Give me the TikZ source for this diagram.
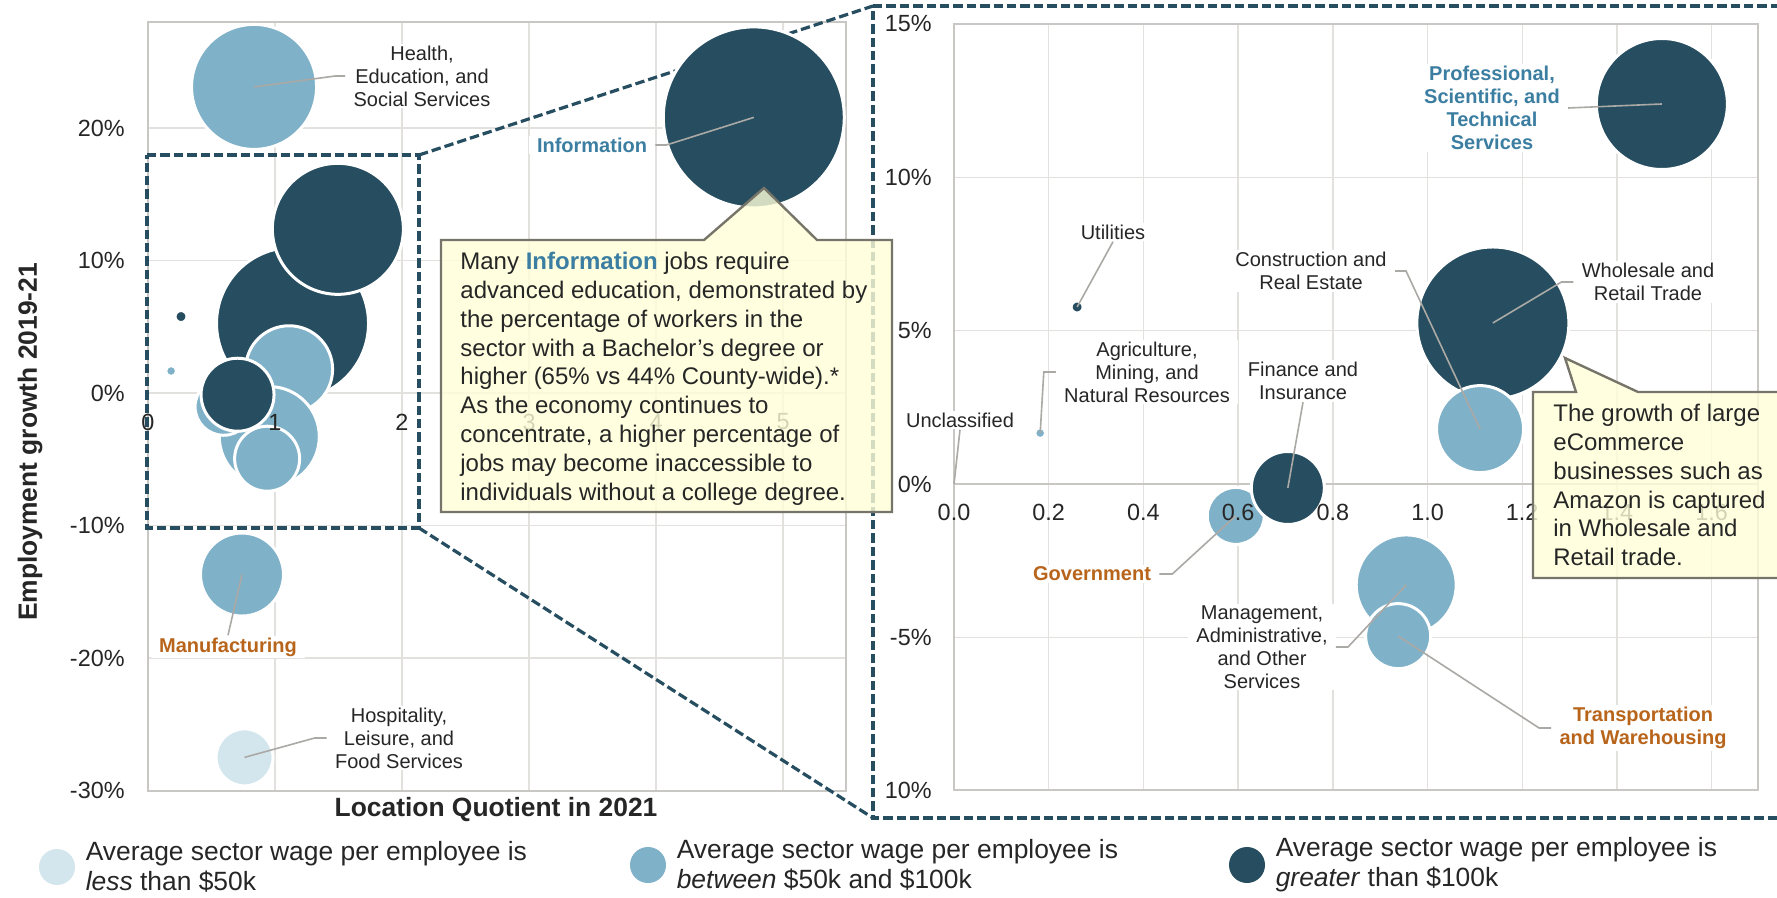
\documentclass[tikz,border=0pt]{standalone}
\usepackage{fontspec}
\setmainfont{Liberation Sans}
\usetikzlibrary{positioning}

\definecolor{darkb}{HTML}{264E60}
\definecolor{midb}{HTML}{7FB1C8}
\definecolor{lightb}{HTML}{D3E6EE}
\definecolor{orng}{HTML}{B8651B}
\definecolor{tealtxt}{HTML}{3B7EA1}
\definecolor{calfill}{HTML}{FFFFD9}
\definecolor{calline}{HTML}{77756A}
\definecolor{gridc}{HTML}{E3E1DD}
\definecolor{axisc}{HTML}{C9C7C3}
\definecolor{leadc}{HTML}{ABA9A5}
\definecolor{txt}{HTML}{262626}

\begin{document}
\begin{tikzpicture}[x=0.5pt, y=-0.5pt,
    gridline/.style={gridc, line width=0.7pt},
    axisline/.style={axisc, line width=1pt},
    zoomline/.style={darkb, line width=1.6pt, dash pattern=on 4.7pt off 2pt},
    bub/.style={circle, draw=white, line width=1.5pt, inner sep=0pt},
    keydot/.style={circle, inner sep=0pt, minimum size=18pt},
    leader/.style={leadc, line width=0.8pt},
    ticklab/.style={text=txt, inner sep=2pt, font=\fontsize{11.7}{14}\selectfont},
    lbl/.style={text=txt, fill=white, align=center, inner xsep=4pt, inner ysep=1pt, font=\fontsize{10}{11.5}\selectfont},
    keylbl/.style={lbl, font=\fontsize{10}{11.5}\selectfont\bfseries},
    calloutbox/.style={draw=calline, line width=1.2pt, fill=calfill, fill opacity=0.8},
    noteText/.style={text=txt, align=left, inner sep=0pt, anchor=north west, font=\fontsize{12}{14.4}\selectfont},
    axistitle/.style={text=txt, font=\fontsize{13.2}{15}\selectfont\bfseries},
    keytext/.style={text=txt, align=left, inner sep=0pt, font=\fontsize{13.2}{15}\selectfont}]

    \fill[white] (0,0) rectangle (1777,898);
    \useasboundingbox (0,0) rectangle (1777,898);

    % left chart
    \foreach \k in {1,...,5}
        \draw[gridline] ({148+127*\k},22) -- ({148+127*\k},791);
    \foreach \g in {-20,-10,0,10,20}
        \draw[gridline] (148,{393-13.25*\g}) -- (846,{393-13.25*\g});
    \draw[axisline] (148,22) rectangle (846,791);

    % right chart
    \foreach \k in {1,...,8}
        \draw[gridline] ({954+94.7*\k},24) -- ({954+94.7*\k},790);
    \foreach \g in {-5,5,10}
        \draw[gridline] (954,{484-30.67*\g}) -- (1758,{484-30.67*\g});
    \draw[axisline] (954,24) rectangle (1758,790);
    \draw[axisline] (954,484) -- (1758,484);

    % zoom frame
    \coordinate (zA) at (147,155);
    \coordinate (zB) at (419,155);
    \coordinate (zC) at (419,528);
    \coordinate (zD) at (147,528);
    \coordinate (zE) at (873,6);
    \coordinate (zF) at (1790,6);
    \coordinate (zG) at (1790,818);
    \coordinate (zH) at (873,818);
    \draw[zoomline] (zA) -- (zB) -- (zC) -- (zD) -- cycle;
    \draw[zoomline] (zE) -- (zF) -- (zG) -- (zH) -- cycle;
    \draw[zoomline] (zB) -- (zE);
    \draw[zoomline] (zC) -- (zH);

    % bubbles
    \foreach \n/\lqv/\gv/\rad/\col in {health/0.835/23.1/61/midb, info/4.77/20.8/89/darkb,
            manuf/0.74/-13.7/40/midb, hosp/0.76/-27.5/27/lightb,
            whole/1.138/5.25/74.5/darkb, prof/1.495/12.39/64/darkb,
            constr/1.111/1.79/42/midb, mgmt/0.955/-3.29/48.5/midb,
            transp/0.938/-4.96/31/midb, gov/0.595/-1.04/27/midb,
            fin/0.705/-0.13/35/darkb, util/0.26/5.77/4.5/darkb, agri/0.182/1.66/4/midb}
        \node[bub, fill=\col, minimum size={(\rad+1.5)*1pt}] (L\n) at ({148+127*\lqv},{393-13.25*\gv}) {};

    \foreach \n/\lqv/\gv/\rad/\col in {whole/1.138/5.25/74.5/darkb, prof/1.495/12.39/64/darkb,
            constr/1.111/1.79/42/midb, mgmt/0.955/-3.29/48.5/midb,
            transp/0.938/-4.96/31/midb, gov/0.595/-1.04/27/midb,
            fin/0.705/-0.13/35/darkb, util/0.26/5.77/4.5/darkb, agri/0.182/1.66/4/midb}
        \node[bub, fill=\col, minimum size={(\rad+1.5)*1pt}] (R\n) at ({954+473.5*\lqv},{484-30.67*\gv}) {};
    \coordinate (Runcl) at (954,484);

    % axis numbers
    \foreach \g/\t in {20/20\%,10/10\%,0/0\%,-10/-10\%,-20/-20\%,-30/-30\%}
        \node[ticklab, anchor=east] (ly\g) at (129,{393-13.25*\g}) {\t};
    \foreach \k in {0,...,5}
        \node[ticklab] (lx\k) at ({148+127*\k},422) {\k};
    \foreach \g/\t in {15/15\%,10/10\%,5/5\%,0/0\%,-5/-5\%,-10/10\%}
        \node[ticklab, anchor=east] (ry\g) at (936,{484-30.67*\g}) {\t};
    \foreach \k/\t in {0/0.0,1/0.2,2/0.4,3/0.6,4/0.8,5/1.0,6/1.2,7/1.4,8/1.6}
        \node[ticklab] (rx\k) at ({954+94.7*\k},512) {\t};

    % labels
    \node[lbl] (lblHealth) at (422,76) {Health,\\Education, and\\Social Services};
    \node[keylbl, text=tealtxt] (lblInfo) at (592,145) {Information};
    \node[keylbl, text=orng] (lblManuf) at (228,647) {Manufacturing};
    \node[lbl] (lblHosp) at (399,738) {Hospitality,\\Leisure, and\\Food Services};

    \draw[leader] (lblHealth.west) -- ++(-10,0) -- (Lhealth.center);
    \draw[leader] (lblInfo.east) -- ++(11,0) -- (Linfo.center);
    \draw[leader] (lblManuf.north) -- (Lmanuf.center);
    \draw[leader] (lblHosp.west) -- ++(-12,0) -- (Lhosp.center);

    \node[keylbl, text=tealtxt] (lblProf) at (1492,108) {Professional,\\Scientific, and\\Technical\\Services};
    \node[lbl] (lblWhole) at (1648,282) {Wholesale and\\Retail Trade};
    \node[lbl] (lblConstr) at (1311,271) {Construction and\\Real Estate};
    \node[lbl] (lblUtil) at (1113,232) {Utilities};
    \node[lbl] (lblAgri) at (1147,372) {Agriculture,\\Mining, and\\Natural Resources};
    \node[lbl] (lblFin) at (1303,381) {Finance and\\Insurance};
    \node[lbl] (lblUncl) at (960,420) {Unclassified};
    \node[keylbl, text=orng] (lblGov) at (1092,574) {Government};
    \node[lbl] (lblMgmt) at (1262,647) {Management,\\Administrative,\\and Other\\Services};
    \node[keylbl, text=orng] (lblTransp) at (1643,728) {Transportation\\and Warehousing};

    \draw[leader] (lblProf.east) -- (Rprof.center);
    \draw[leader] (lblWhole.west) -- ++(-12,0) -- (Rwhole.center);
    \draw[leader] (lblConstr.east) -- ++(11,0) -- (Rconstr.center);
    \draw[leader] (lblUtil.south) -- (Rutil.center);
    \draw[leader] (lblAgri.west) -- ++(-12,0) -- (Ragri.center);
    \draw[leader] (lblFin.south) -- (Rfin.center);
    \draw[leader] (lblUncl.south) -- (Runcl);
    \draw[leader] (lblGov.east) -- ++(13,0) -- (Rgov.center);
    \draw[leader] (lblMgmt.east) -- ++(12,0) -- (Rmgmt.center);
    \draw[leader] (lblTransp.west) -- ++(-12,0) -- (Rtransp.center);

    % callouts
    \draw[calloutbox] (441,240) -- (704,240) -- (764,188) -- (817,240) -- (892,240) -- (892,512) -- (441,512) -- cycle;
    \node[noteText] (infoNote) at (460,252) {Many \textcolor{tealtxt}{\bfseries Information} jobs require\\advanced education, demonstrated by\\the percentage of workers in the\\sector with a Bachelor’s degree or\\higher (65\% vs 44\% County-wide).*\\As the economy continues to\\concentrate, a higher percentage of\\jobs may become inaccessible to\\individuals without a college degree.};

    \draw[calloutbox] (1533,392) -- (1576,392) -- (1565,358) -- (1638,392) -- (1790,392) -- (1790,578) -- (1533,578) -- cycle;
    \node[noteText] (ecomNote) at (1553,404) {The growth of large\\eCommerce\\businesses such as\\Amazon is captured\\in Wholesale and\\Retail trade.};

    % axis titles
    \node[axistitle] (xTitle) at (496,810) {Location Quotient in 2021};
    \node[axistitle, rotate=90] (yTitle) at (30,442) {Employment growth 2019-21};

    % legend
    \node[keydot, fill=lightb] (keyLow) at (57,867) {};
    \node[keytext, right=5pt of keyLow] (keyLowText) {Average sector wage per employee is\\\emph{less} than \$50k};
    \node[keydot, fill=midb] (keyMid) at (648,865) {};
    \node[keytext, right=5pt of keyMid] (keyMidText) {Average sector wage per employee is\\\emph{between} \$50k and \$100k};
    \node[keydot, fill=darkb] (keyHigh) at (1247,865) {};
    \node[keytext, right=5pt of keyHigh] (keyHighText) {Average sector wage per employee is\\\emph{greater} than \$100k};
\end{tikzpicture}
\end{document}
